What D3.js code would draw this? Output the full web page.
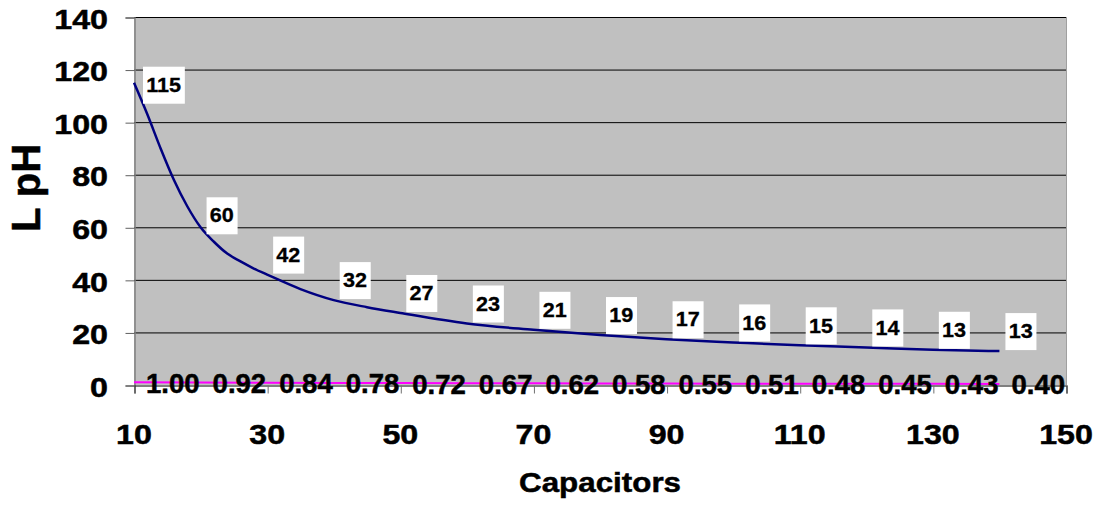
<!DOCTYPE html>
<html>
<head>
<meta charset="utf-8">
<script src="https://cdn.jsdelivr.net/npm/d3@7"></script>
<style>
  html, body { margin: 0; padding: 0; background: #ffffff; }
  svg { display: block; }
  text { font-family: "Liberation Sans", Arial, sans-serif; font-weight: bold; fill: #000; }
  text.heavy { stroke: #000; stroke-width: 0.5px; }
</style>
</head>
<body>
<svg id="chart" width="1096" height="508"></svg>
<script>
// Inductance curve (pH) against number of capacitors
const capacitors = [10, 12, 14, 16, 18, 20, 22, 24, 26, 28, 30, 35, 40, 45, 50, 60, 70, 80, 90, 100, 110, 120, 130, 140];
const inductance = [115, 103, 90, 78, 68, 60, 54.5, 50, 47, 44.3, 42, 36.5, 32.3, 29.6, 27.4, 23.4, 21, 19, 17.4, 16.2, 15.1, 14.3, 13.4, 12.9];

// Relative factor series, one value per ten capacitors
const factorCaps = [10, 20, 30, 40, 50, 60, 70, 80, 90, 100, 110, 120, 130, 140];
const factor = [1.00, 0.92, 0.84, 0.78, 0.72, 0.67, 0.62, 0.58, 0.55, 0.51, 0.48, 0.45, 0.43, 0.40];

// Axis ticks
const xTicks = [10, 30, 50, 70, 90, 110, 130, 150];
const yTicks = [0, 20, 40, 60, 80, 100, 120, 140];

const svg = d3.select("#chart");
const plot = { left: 134, right: 1066, top: 17, bottom: 385 };

const x = d3.scaleLinear().domain([10, 150]).range([plot.left, plot.right]);
const y = d3.scaleLinear().domain([0, 140]).range([plot.bottom, plot.top]);

const stretch = 1.15; // horizontal widening of axis text

// plot background
svg.append("rect")
  .attr("x", plot.left).attr("y", plot.top)
  .attr("width", plot.right - plot.left).attr("height", plot.bottom - plot.top)
  .attr("fill", "#c0c0c0");

// horizontal gridlines
svg.append("g").selectAll("line")
  .data(yTicks.filter(d => d > 0))
  .join("line")
  .attr("x1", plot.left).attr("x2", plot.right)
  .attr("y1", d => y(d) + 0.5).attr("y2", d => y(d) + 0.5)
  .attr("stroke", "#000").attr("stroke-width", 1);

// right border of plot area
svg.append("line")
  .attr("x1", plot.right + 0.5).attr("x2", plot.right + 0.5)
  .attr("y1", plot.top).attr("y2", plot.bottom)
  .attr("stroke", "#a0a0a0").attr("stroke-width", 1);

// y axis
const yAxis = svg.append("g")
  .attr("transform", `translate(${plot.left + 0.5},0.5)`)
  .call(d3.axisLeft(y).tickValues(yTicks).tickSize(9).tickFormat(""));
yAxis.select(".domain").attr("stroke", "#808080").attr("stroke-width", 1.5);
yAxis.selectAll(".tick line").attr("stroke", "#606060");

svg.append("g").selectAll("text")
  .data(yTicks)
  .join("text")
  .attr("class", "heavy")
  .attr("transform", d => `translate(108,${y(d) + 2}) scale(${stretch},1)`)
  .attr("text-anchor", "end")
  .attr("dominant-baseline", "central")
  .attr("font-size", 28)
  .text(d => d);

// x axis
const xAxis = svg.append("g")
  .attr("transform", `translate(0.5,${plot.bottom + 0.5})`)
  .call(d3.axisBottom(x).tickValues(xTicks).tickSize(8).tickFormat(""));
xAxis.select(".domain").attr("stroke", "#000").attr("stroke-width", 1.2);
xAxis.selectAll(".tick line").attr("stroke", "#707070");

svg.append("g").selectAll("text")
  .data(xTicks)
  .join("text")
  .attr("class", "heavy")
  .attr("transform", d => `translate(${x(d)},434) scale(${stretch},1)`)
  .attr("text-anchor", "middle")
  .attr("dominant-baseline", "central")
  .attr("font-size", 28)
  .text(d => d);

// axis titles
svg.append("text")
  .attr("class", "heavy")
  .attr("transform", `translate(${(plot.left + plot.right) / 2},${482}) scale(1.12,1)`)
  .attr("text-anchor", "middle")
  .attr("dominant-baseline", "central")
  .attr("font-size", 28)
  .text("Capacitors");

svg.append("text")
  .attr("class", "heavy")
  .attr("transform", `translate(26,188) rotate(-90)`)
  .attr("text-anchor", "middle")
  .attr("dominant-baseline", "central")
  .attr("font-size", 40)
  .text("L pH");

// factor series line (near zero)
const factorPts = factorCaps.map((c, i) => [c, factor[i]]);
svg.append("path")
  .datum(factorPts)
  .attr("fill", "none")
  .attr("stroke", "#ff00ff")
  .attr("stroke-width", 2)
  .attr("d", d3.line().x(d => x(d[0])).y(d => y(d[1])));

// inductance curve
const curvePts = capacitors.map((c, i) => [c, inductance[i]]);
svg.append("path")
  .datum(curvePts)
  .attr("fill", "none")
  .attr("stroke", "#000080")
  .attr("stroke-width", 2.5)
  .attr("stroke-linejoin", "round")
  .attr("d", d3.line().x(d => x(d[0])).y(d => y(d[1])).curve(d3.curveMonotoneX));

// factor labels, to the right of each point
svg.append("g").selectAll("text")
  .data(factorPts)
  .join("text")
  .attr("class", "heavy")
  .attr("transform", d => `translate(${x(d[0]) + 12},${y(d[1]) + 1}) scale(1.02,1)`)
  .attr("dominant-baseline", "central")
  .attr("font-size", 27)
  .text(d => d3.format(".2f")(d[1]));

// inductance labels at every tenth capacitor, boxed in white
const labelled = curvePts.filter(d => d[0] % 10 === 0);
const nudge = { 10: { dx: 3, dy: 22 }, 20: { dx: 0, dy: 8 } };
const lab = svg.append("g").selectAll("g")
  .data(labelled)
  .join("g")
  .attr("transform", d => {
    const n = nudge[d[0]] || { dx: 0, dy: 0 };
    return `translate(${x(d[0]) + 6 + n.dx},${y(d[1]) - 20 + n.dy})`;
  });
lab.append("text")
  .attr("transform", `scale(1.08,1)`)
  .attr("x", 3)
  .attr("dominant-baseline", "central")
  .attr("font-size", 20)
  .style("stroke", "#000").style("stroke-width", "0.3px")
  .text(d => Math.round(d[1]));
lab.each(function() {
  const g = d3.select(this);
  const w = g.select("text").node().getComputedTextLength() * 1.08 + 7;
  g.insert("rect", "text")
    .attr("x", 0).attr("y", -18)
    .attr("width", w).attr("height", 37)
    .attr("fill", "#ffffff");
});
</script>
</body>
</html>
